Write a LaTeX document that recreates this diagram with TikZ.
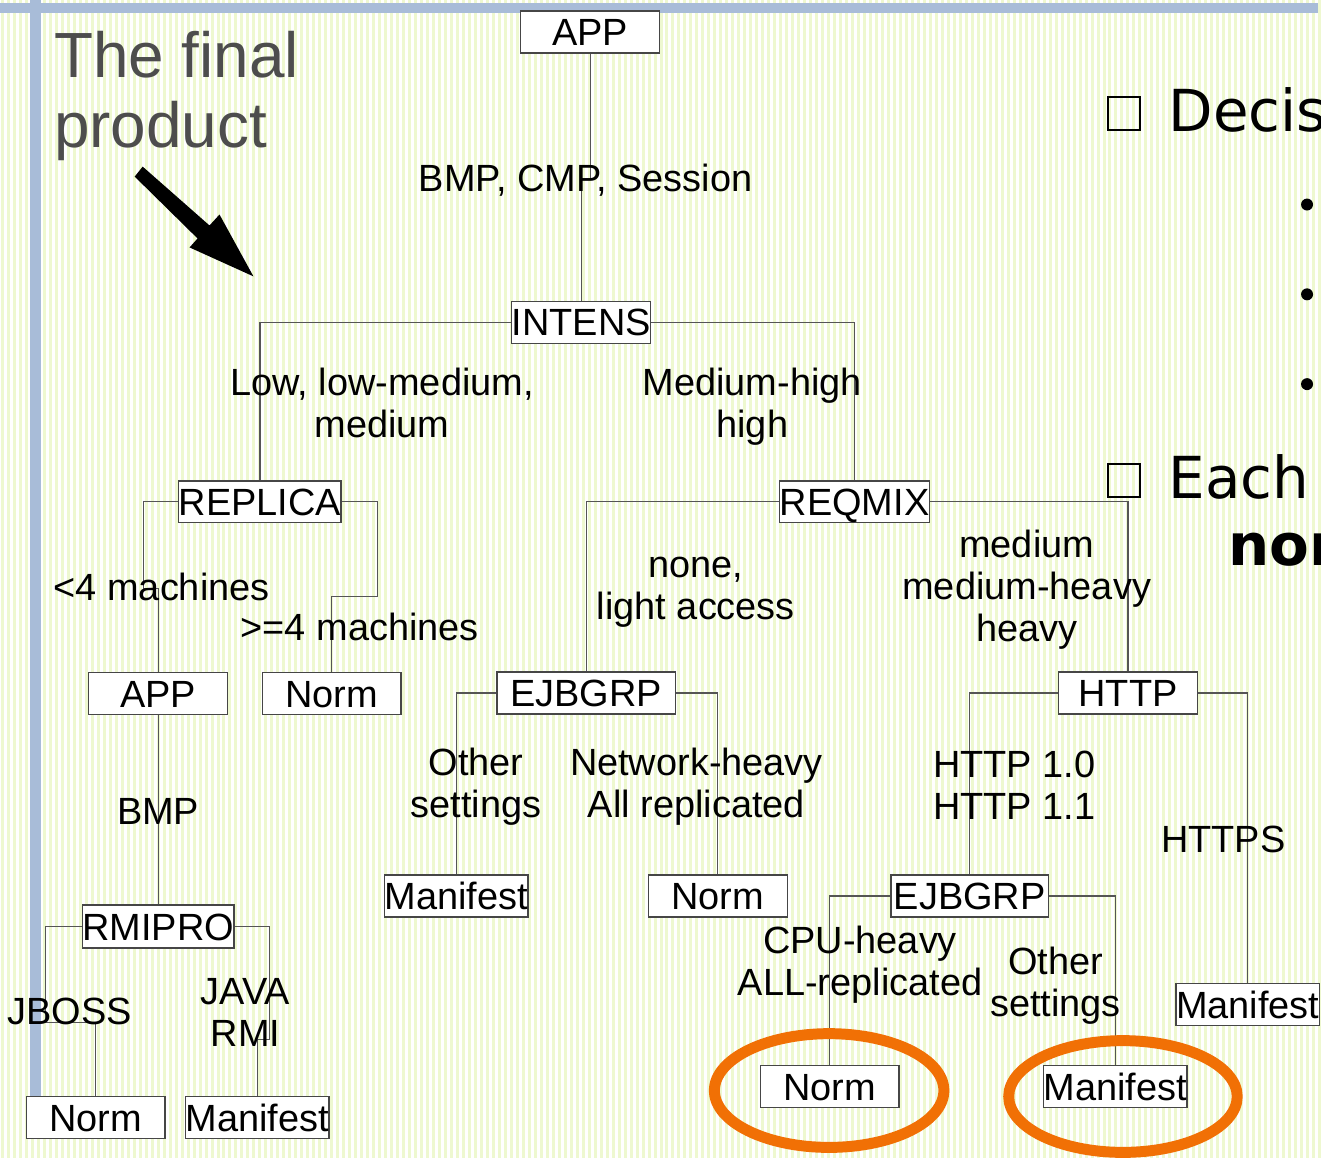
\documentclass[tikz,border=0pt]{standalone}
\usepackage{fontspec}
\setmainfont{Liberation Sans}
\newfontfamily\dvsans{DejaVu Sans}
\definecolor{stripe}{RGB}{238,248,208}
\definecolor{barblue}{RGB}{168,188,216}
\definecolor{linegray}{RGB}{85,85,85}
\definecolor{boxgray}{RGB}{70,70,70}
\definecolor{titlegray}{RGB}{77,77,77}
\definecolor{ringorange}{RGB}{241,112,5}
\newcommand\treefont{\fontsize{38}{42}\selectfont}
\pgfdeclarelayer{back}
\pgfdeclarelayer{wires}
\pgfsetlayers{back,wires,main}
\tikzset{
  conn/.style={draw=linegray, line width=1.2},
  box/.style={draw=boxgray, fill=white, line width=1.3, inner sep=0,
    minimum height=42, text height=27.3pt, text depth=0pt, font=\treefont},
  lab/.style={inner sep=0, align=center, font=\treefont},
  ring/.style={draw=ringorange, line width=11},
}
\begin{document}
\begin{tikzpicture}[x=1pt,y=-1pt]
\begin{pgfonlayer}{back}
% page and striped slide background
\fill[white] (0,0) rectangle (1321,1161);
\foreach \i in {0,...,220} \fill[stripe] ({\i*6+1},0) rectangle ++(3,1161);
% slide frame bars
\fill[barblue] (0,3) rectangle (1321,13);
\fill[barblue] (30,0) rectangle (41,1120);
\end{pgfonlayer}
\useasboundingbox (0,0) rectangle (1321,1161);

% title
\node[anchor=base west, inner sep=0, text=titlegray, font=\fontsize{64}{70}\selectfont] (title1) at (54,78) {The final};
\node[anchor=base west, inner sep=0, text=titlegray, font=\fontsize{64}{70}\selectfont] (title2) at (54,148) {product};

% block arrow
\fill[black] (143,167) -- (210,226) -- (220,215) -- (254,277) -- (190,248) -- (198,239) -- (135,177) -- cycle;

% right-hand bullet list
\draw[black, line width=2] (1110.5,97.5) rectangle (1143,130);
\draw[black, line width=2] (1110.5,465.5) rectangle (1143,498);
\node[anchor=base west, inner sep=0, font=\dvsans\fontsize{58}{64}\selectfont] (decis) at (1171,132) {Decis};
\node[anchor=base west, inner sep=0, font=\dvsans\fontsize{58}{64}\selectfont] (each) at (1171,500) {Each};
\node[anchor=base west, inner sep=0, font=\dvsans\bfseries\fontsize{58}{64}\selectfont] (nor) at (1231,567) {nor};
\fill[black] (1310,205) circle (6);
\fill[black] (1310,295) circle (6);
\fill[black] (1310,385) circle (6);

% tree nodes
\node[box, minimum width=139] (app1) at (591.5,32) {APP};
\node[box, minimum width=139] (intens) at (582.5,323) {INTENS};
\node[box, minimum width=159] (replica) at (260.5,503) {REPLICA};
\node[box, minimum width=140] (reqmix) at (856.5,503) {REQMIX};
\node[box, minimum width=139] (app2) at (158.5,695) {APP};
\node[box, minimum width=139] (norm1) at (332.5,695) {Norm};
\node[box, minimum width=179] (ejb1) at (587.5,694.5) {EJBGRP};
\node[box, minimum width=139] (http) at (1130.5,694.5) {HTTP};
\node[box, minimum width=139] (man1) at (457.5,898) {Manifest};
\node[box, minimum width=139] (norm2) at (719.5,898) {Norm};
\node[box, minimum width=158] (ejb2) at (972,898) {EJBGRP};
\node[box, minimum width=139] (man2) at (1250.5,1007) {Manifest};
\node[box, minimum width=140, minimum height=43] (rmipro) at (158.5,928.5) {RMIPRO};
\node[box, minimum width=139] (norm3) at (96,1120) {Norm};
\node[box, minimum width=140] (man3) at (258,1120) {Manifest};
\node[box, minimum width=139] (norm4) at (831.5,1089) {Norm};
\node[box, minimum width=140] (man4) at (1118,1089) {Manifest};

% jog points of the elbow connectors
\coordinate (j0) at (591.5,180);
\coordinate (j1) at (144,590);
\coordinate (j2) at (378,598);
\coordinate (j3) at (46,1025);
\coordinate (j4) at (270.5,1042);

% connectors, kept beneath the boxes
\begin{pgfonlayer}{wires}
\draw[conn] (app1.south) -- (j0) -| (intens.north);
\draw[conn] (intens.west) -| (replica.north);
\draw[conn] (intens.east) -| (reqmix.north);
\draw[conn] (replica.west) -| (j1) -| (app2.north);
\draw[conn] (replica.east) -| (j2) -| (norm1.north);
\draw[conn] (reqmix.west) -| (ejb1.north);
\draw[conn] (reqmix.east) -| (http.north);
\draw[conn] (app2.south) -- (rmipro.north);
\draw[conn] (rmipro.west) -| (j3) -| (norm3.north);
\draw[conn] (rmipro.east) -| (j4) -| (man3.north);
\draw[conn] (ejb1.west) -| (man1.north);
\draw[conn] (ejb1.east) -| (norm2.north);
\draw[conn] (http.west) -| (ejb2.north);
\draw[conn] (http.east) -| (man2.north);
\draw[conn] (ejb2.west) -| (norm4.north);
\draw[conn] (ejb2.east) -| (man4.north);
\end{pgfonlayer}

% branch labels
\node[lab] (l0) at (587,183.6) {\strut BMP, CMP, Session\strut};
\node[lab] (l1) at (383,408.6) {\strut Low, low-medium,\\ medium\strut};
\node[lab] (l2) at (754,408.6) {\strut Medium-high\\ high\strut};
\node[lab] (l3) at (162,593.6) {\strut <4 machines\strut};
\node[lab] (l4) at (360.5,633.6) {\strut >=4 machines\strut};
\node[lab] (l5) at (697.5,591.6) {\strut none,\\ light access\strut};
\node[lab] (l6) at (1029,592.1) {\strut medium\\ medium-heavy\\ heavy\strut};
\node[lab] (l7) at (158.5,817.6) {\strut BMP\strut};
\node[lab] (l8) at (477,789.6) {\strut Other\\ settings\strut};
\node[lab] (l9) at (698,789.6) {\strut Network-heavy\\ All replicated\strut};
\node[lab] (l10) at (1016.5,791.6) {\strut HTTP 1.0\\ HTTP 1.1\strut};
\node[lab] (l11) at (1226,845.6) {\strut HTTPS\strut};
\node[lab] (l12) at (862,968.6) {\strut CPU-heavy\\ ALL-replicated\strut};
\node[lab] (l13) at (1058,989.6) {\strut Other\\ settings\strut};
\node[lab] (l14) at (70,1018.6) {\strut JBOSS\strut};
\node[lab] (l15) at (246,1019.1) {\strut JAVA\\ RMI\strut};

% highlight rings
\draw[ring] (831,1093) ellipse [x radius=115, y radius=57];
\draw[ring] (1125.5,1099) ellipse [x radius=114.5, y radius=56];
\end{tikzpicture}
\end{document}
